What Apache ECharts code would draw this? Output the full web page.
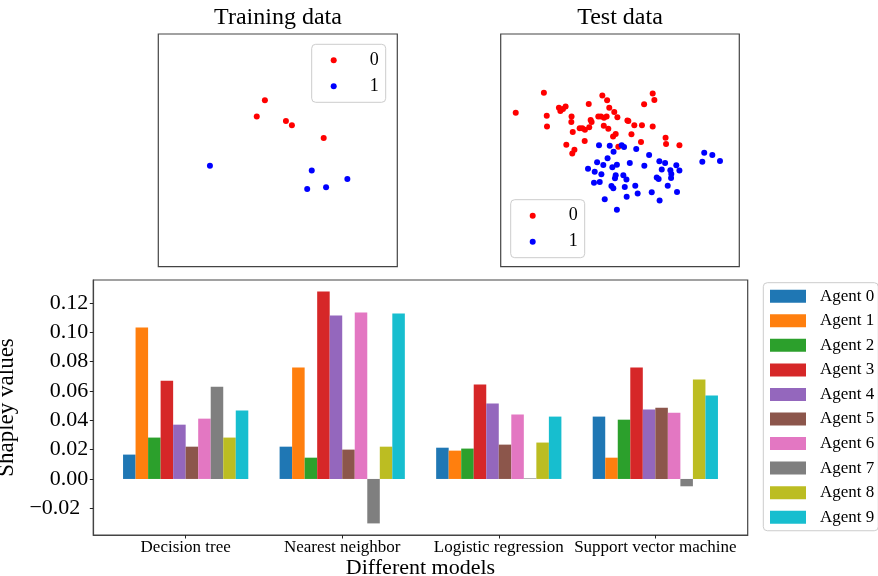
<!DOCTYPE html>
<html>
<head>
<meta charset="utf-8">
<script src="https://cdn.jsdelivr.net/npm/echarts@6/dist/echarts.min.js"></script>
<style>
html,body{margin:0;padding:0;background:#fff;}
#main{width:878px;height:576px;}
</style>
</head>
<body>
<div id="main"></div>
<script>
// ---- Data ----
const categories = ['Decision tree', 'Nearest neighbor', 'Logistic regression', 'Support vector machine'];
const agentNames = ['Agent 0','Agent 1','Agent 2','Agent 3','Agent 4','Agent 5','Agent 6','Agent 7','Agent 8','Agent 9'];
const agentColors = ['#1f77b4','#ff7f0e','#2ca02c','#d62728','#9467bd','#8c564b','#e377c2','#7f7f7f','#bcbd22','#17becf'];

const shapleyAgent0 = [0.0166, 0.0220, 0.0213, 0.0425];
const shapleyAgent1 = [0.1032, 0.0759, 0.0193, 0.0145];
const shapleyAgent2 = [0.0282, 0.0145, 0.0207, 0.0404];
const shapleyAgent3 = [0.0670, 0.1277, 0.0643, 0.0759];
const shapleyAgent4 = [0.0370, 0.1114, 0.0514, 0.0473];
const shapleyAgent5 = [0.0220, 0.0200, 0.0234, 0.0486];
const shapleyAgent6 = [0.0411, 0.1134, 0.0439, 0.0452];
const shapleyAgent7 = [0.0629, -0.0303, 0.0004, -0.0050];
const shapleyAgent8 = [0.0282, 0.0220, 0.0248, 0.0677];
const shapleyAgent9 = [0.0466, 0.1127, 0.0425, 0.0568];

const yTicks = [-0.02, 0.00, 0.02, 0.04, 0.06, 0.08, 0.10, 0.12];
const xTicks = [0, 1, 2, 3];

// scatter points (arbitrary units 0..100)
const trainClass0 = [[44.6,71.5],[41.2,64.5],[53.4,62.6],[55.9,60.8],[69.2,55.3]];
const trainClass1 = [[21.6,43.4],[64.2,41.3],[79.1,37.7],[70.2,34.1],[62.3,33.4]];

const testClass0 = [
 [6.3,66.2],[18.1,74.8],[19.3,64.9],[19.4,60.3],[24.4,68.3],[25.0,66.9],[26.1,67.8],[27.2,68.8],
 [29.7,64.5],[29.6,62.2],[30.2,57.9],[27.5,52.4],[30.9,50.3],[30.0,48.6],[33.1,59.5],[34.2,59.5],
 [35.3,58.9],[36.9,69.9],[37.1,59.9],[37.7,63.0],[38.1,62.2],[35.2,54.0],[40.9,64.6],[42.0,64.6],
 [42.6,73.6],[43.3,64.0],[44.4,64.5],[44.6,71.5],[45.5,68.3],[43.2,60.6],[45.1,59.3],[47.6,66.5],
 [48.9,64.2],[48.2,57.0],[47.1,55.9],[49.3,51.6],[53.1,62.8],[53.5,62.6],[56.0,60.8],[54.8,56.9],
 [59.2,60.8],[58.8,53.6],[60.1,69.8],[63.7,74.4],[64.4,71.6],[63.7,60.3],[69.1,55.4],[69.3,52.7],
 [74.9,52.2]
];
const testClass1 = [
 [41.2,52.2],[45.7,52.0],[50.7,52.2],[51.7,51.4],[47.3,49.4],[44.8,46.6],[40.4,44.9],[43.0,43.7],
 [36.6,42.1],[39.4,40.8],[42.2,39.7],[39.1,36.1],[41.5,36.4],[46.8,42.7],[48.7,43.8],[54.1,44.6],
 [56.8,50.6],[62.2,48.0],[60.2,43.4],[48.2,39.3],[47.9,38.0],[51.4,39.3],[52.7,37.5],[46.4,34.7],
 [47.2,33.7],[52.0,34.3],[56.4,34.8],[57.4,31.5],[52.8,30.1],[43.6,29.0],[48.7,24.5],[63.3,32.0],
 [66.6,28.5],[65.4,38.3],[66.2,37.7],[66.5,45.3],[68.9,44.6],[67.5,41.8],[71.1,41.4],[71.5,39.8],
 [71.4,38.1],[70.0,34.8],[73.6,43.6],[74.9,41.3],[73.9,32.1],[85.3,49.0],[88.7,48.0],[84.5,45.1],
 [91.9,45.4]
];

const shapleySeries = [shapleyAgent0, shapleyAgent1, shapleyAgent2, shapleyAgent3, shapleyAgent4,
  shapleyAgent5, shapleyAgent6, shapleyAgent7, shapleyAgent8, shapleyAgent9];

// ---- Styling ----
const FONT = "'Liberation Serif', 'DejaVu Serif', serif";
const SPINE = '#444';

function fmtY(v) {
  const s = Math.abs(v).toFixed(2);
  if (v < -1e-9) return '{neg|\u2212' + s + '}';
  return s;
}

const scatterLegendBase = {
  data: ['0', '1'],
  orient: 'vertical',
  icon: 'circle',
  itemWidth: 14,
  itemHeight: 6,
  itemGap: 8,
  padding: [7, 7, 7, 19],
  selectedMode: false,
  backgroundColor: 'rgba(255,255,255,0.8)',
  borderColor: '#cccccc',
  borderWidth: 1,
  borderRadius: 4,
  textStyle: { fontFamily: FONT, fontSize: 18, lineHeight: 18, color: '#000', padding: [0, 0, 0, 24] }
};

const hiddenAxis = (g) => ({ gridIndex: g, type: 'value', min: 0, max: 100, show: false });

const option = {
  animation: false,
  backgroundColor: '#fff',
  title: [
    { text: 'Training data', left: 278, top: 6, textAlign: 'center', padding: 0,
      textStyle: { fontFamily: FONT, fontSize: 24, fontWeight: 'normal', color: '#000' } },
    { text: 'Test data', left: 620, top: 6, textAlign: 'center', padding: 0,
      textStyle: { fontFamily: FONT, fontSize: 24, fontWeight: 'normal', color: '#000' } }
  ],
  legend: [
    Object.assign({}, scatterLegendBase, { left: 311.7, top: 44.3 }),
    Object.assign({}, scatterLegendBase, { left: 510.7, top: 199.7 }),
    {
      data: agentNames,
      orient: 'vertical',
      left: 763.3,
      top: 282.7,
      icon: 'rect',
      itemWidth: 36,
      itemHeight: 13,
      itemGap: 7.56,
      padding: [5, 4, 5, 6.7],
      selectedMode: false,
      backgroundColor: 'rgba(255,255,255,0.8)',
      borderColor: '#cccccc',
      borderWidth: 1,
      borderRadius: 4,
      textStyle: { fontFamily: FONT, fontSize: 17, lineHeight: 17, color: '#000', padding: [0, 0, 0, 9] }
    }
  ],
  grid: [
    { left: 158.3, top: 34, width: 239, height: 232.7, show: true, borderColor: SPINE, borderWidth: 1.2, outerBoundsMode: 'none', containLabel: false },
    { left: 500.7, top: 34, width: 238.6, height: 232.7, show: true, borderColor: SPINE, borderWidth: 1.2, outerBoundsMode: 'none', containLabel: false },
    { left: 93.3, top: 280, width: 654.4, height: 255, show: true, borderColor: SPINE, borderWidth: 1.2, outerBoundsMode: 'none', containLabel: false }
  ],
  xAxis: [
    hiddenAxis(0),
    hiddenAxis(1),
    {
      gridIndex: 2, type: 'value', min: -0.59, max: 3.59,
      splitLine: { show: false },
      axisLine: { show: true, onZero: false, lineStyle: { color: SPINE, width: 1.2 } },
      axisTick: { show: true, length: 3.5, customValues: xTicks, lineStyle: { color: '#222', width: 1 } },
      axisLabel: { customValues: xTicks, formatter: (v) => categories[Math.round(v)],
        fontFamily: FONT, fontSize: 17, color: '#000', margin: 4 },
      name: 'Different models', nameLocation: 'middle', nameGap: 19,
      nameTextStyle: { fontFamily: FONT, fontSize: 22, color: '#000' }
    }
  ],
  yAxis: [
    hiddenAxis(0),
    hiddenAxis(1),
    {
      gridIndex: 2, type: 'value', min: -0.0382, max: 0.1356,
      splitLine: { show: false },
      axisLine: { show: true, onZero: false, lineStyle: { color: SPINE, width: 1.2 } },
      axisTick: { show: true, length: 3.5, customValues: yTicks, lineStyle: { color: '#222', width: 1 } },
      axisLabel: { customValues: yTicks, formatter: fmtY,
        fontFamily: FONT, fontSize: 22, color: '#000', margin: 5,
        rich: { neg: { fontFamily: FONT, fontSize: 22, color: '#000', padding: [0, 8, 0, 0] } } },
      name: 'Shapley values', nameLocation: 'middle', nameGap: 64, nameRotate: 90,
      nameTextStyle: { fontFamily: FONT, fontSize: 23, color: '#000' }
    }
  ],
  series: [
    { type: 'scatter', name: '0', xAxisIndex: 0, yAxisIndex: 0, data: trainClass0, symbolSize: 6, itemStyle: { color: '#ff0000', opacity: 1 } },
    { type: 'scatter', name: '1', xAxisIndex: 0, yAxisIndex: 0, data: trainClass1, symbolSize: 6, itemStyle: { color: '#0000ff', opacity: 1 } },
    { type: 'scatter', name: '0', xAxisIndex: 1, yAxisIndex: 1, data: testClass0, symbolSize: 6, itemStyle: { color: '#ff0000', opacity: 1 } },
    { type: 'scatter', name: '1', xAxisIndex: 1, yAxisIndex: 1, data: testClass1, symbolSize: 6, itemStyle: { color: '#0000ff', opacity: 1 } }
  ].concat(shapleySeries.map((vals, i) => ({
    type: 'bar',
    name: agentNames[i],
    xAxisIndex: 2,
    yAxisIndex: 2,
    data: vals.map((v, j) => [xTicks[j], v]),
    barGap: '0%',
    barCategoryGap: '20%',
    itemStyle: { color: agentColors[i] }
  })))
};

const chart = echarts.init(document.getElementById('main'), null, { renderer: 'canvas' });
chart.setOption(option);
</script>
</body>
</html>
